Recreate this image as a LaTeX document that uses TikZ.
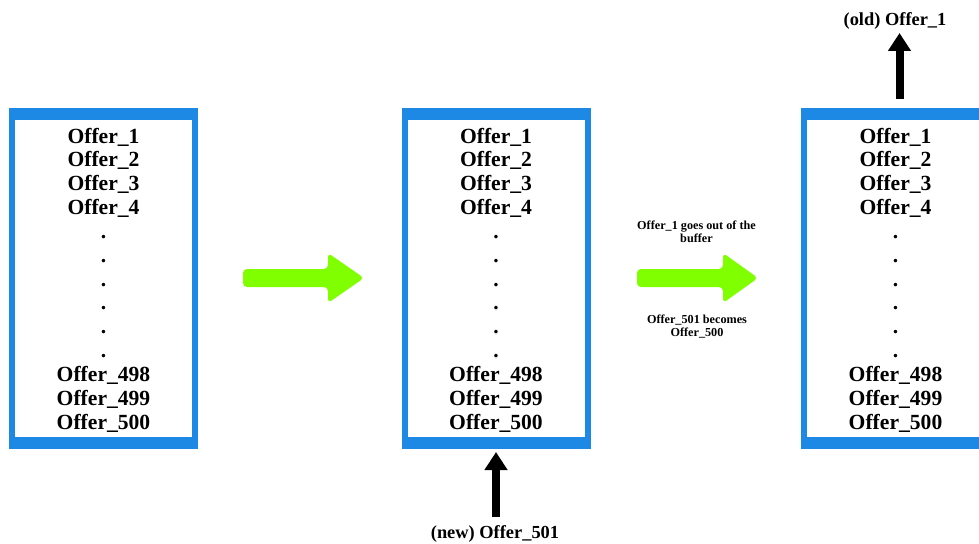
\documentclass[tikz,border=0pt]{standalone}
\usepackage{fontspec}
\setmainfont{Liberation Serif}
\usetikzlibrary{arrows.meta}
\definecolor{boxblue}{RGB}{30,136,229}
\definecolor{arrowgreen}{RGB}{127,255,0}
\begin{document}
\begin{tikzpicture}[x=1pt,y=-1pt,
  box/.style={fill=boxblue, draw=none, minimum width=189pt, minimum height=341pt, inner sep=0pt, outer sep=0pt},
  entry/.style={font=\fontsize{21.6}{24}\selectfont\bfseries, inner sep=0pt, anchor=base},
  note/.style={font=\fontsize{12.2}{13}\selectfont\bfseries, inner sep=0pt, anchor=base},
  lbl/.style={font=\fontsize{18.4}{20}\selectfont\bfseries, inner sep=0pt, anchor=base},
  fatarrow/.style={fill=arrowgreen, rounded corners=4pt},
  blackarrow/.style={draw=black, line width=8pt, -{Triangle[length=18pt,width=22pt]}}
]
\useasboundingbox (0,0) rectangle (979,543);
\foreach \n/\cx in {1/103.5, 2/496, 3/895.5} {
  \node[box] (box\n) at (\cx,278.5) {};
  \fill[white] ([shift={(6pt,-12pt)}]box\n.north west) rectangle ([shift={(-6pt,12pt)}]box\n.south east);
  \foreach \t [count=\i from 0] in {Offer\_1,Offer\_2,Offer\_3,Offer\_4,.,.,.,.,.,.,Offer\_498,Offer\_499,Offer\_500}
    \node[entry] (t\n-\i) at (\cx,{143+\i*23.85}) {\t};
}
% green arrows
\fill[fatarrow] (243,269) -- (328,269) -- (328,253) -- (364,278) -- (328,303) -- (328,287) -- (243,287) -- cycle;
\fill[fatarrow] (637,269) -- (723,269) -- (723,253) -- (758,278) -- (723,303) -- (723,287) -- (637,287) -- cycle;
% notes
\node[note] (n1) at (696.5,229) {Offer\_1 goes out of the};
\node[note] (n2) at (696.5,242) {buffer};
\node[note] (n3) at (697,323) {Offer\_501 becomes};
\node[note] (n4) at (697,336) {Offer\_500};
% black arrows
\node[lbl] (newlbl) at (495,538) {(new) Offer\_501};
\node[lbl] (oldlbl) at (895,26) {(old) Offer\_1};
\coordinate (nbase) at (496,517);
\coordinate (otip) at (899.5,33);
\draw[blackarrow] (nbase) -- ([yshift=-3pt]box2.south);
\draw[blackarrow] ([xshift=4pt,yshift=9pt]box3.north) -- (otip);
\end{tikzpicture}
\end{document}
